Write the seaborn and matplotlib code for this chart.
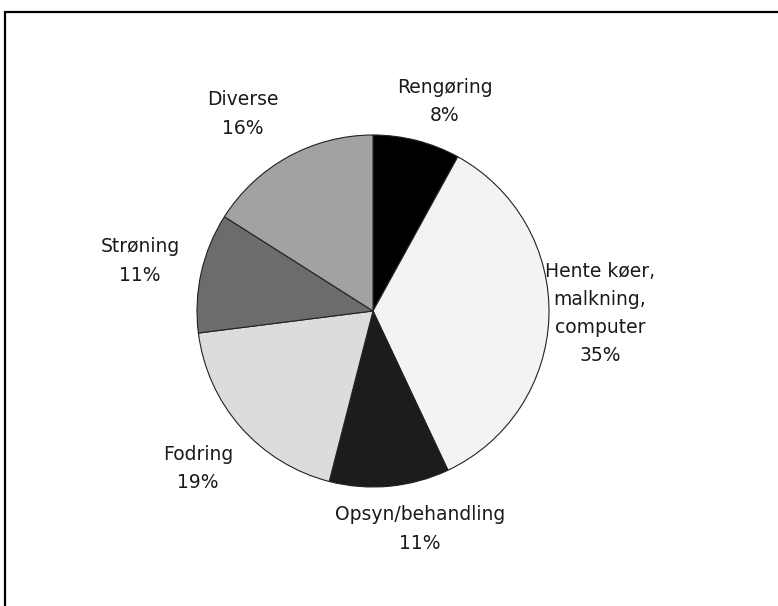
import matplotlib
matplotlib.use("Agg")
import matplotlib.pyplot as plt
import seaborn as sns
from matplotlib.patches import Rectangle

categories = ["Rengøring", "Hente køer,\nmalkning,\ncomputer", "Opsyn/behandling",
              "Fodring", "Strøning", "Diverse"]
shares = [8, 35, 11, 19, 11, 16]
colors = ["#000000", "#f3f3f3", "#1c1c1c", "#dcdcdc", "#6c6c6c", "#a2a2a2"]

# label centres, in units of the pie radius
label_pos = [(0.409, 1.190), (1.290, -0.014), (0.267, -1.239),
             (-0.994, -0.895), (-1.324, 0.284), (-0.739, 1.119)]

sns.set_theme(style="white")
plt.rcParams['font.family'] = ['DejaVu Sans']

W, H = 778, 606
fig = plt.figure(figsize=(W / 100, H / 100), dpi=100)
ax = fig.add_axes([0, 0, 1, 1])

cx, cy, R = 373, 311, 176
labels = [f"{c}\n{v}%" for c, v in zip(categories, shares)]
wedges, texts = ax.pie(shares, labels=labels, colors=colors, startangle=90,
                       counterclock=False, radius=1.0, labeldistance=1.3,
                       wedgeprops=dict(edgecolor="#222222", linewidth=0.8),
                       textprops=dict(fontsize=13.5, color="#1a1a1a", linespacing=1.62))
for t, p in zip(texts, label_pos):
    t.set_position(p)
    t.set_ha("center")
    t.set_va("center")

ax.set_xlim(-cx / R, (W - cx) / R)
ax.set_ylim(-(H - cy) / R, cy / R)
ax.set_aspect("auto")
ax.axis("off")

fig.patches.append(Rectangle((5 / W, -0.1), 1.2, (H - 12) / H + 0.1,
                             transform=fig.transFigure, fill=False,
                             edgecolor="black", linewidth=1.6))

fig.savefig("out.png", dpi=100, facecolor="white")
